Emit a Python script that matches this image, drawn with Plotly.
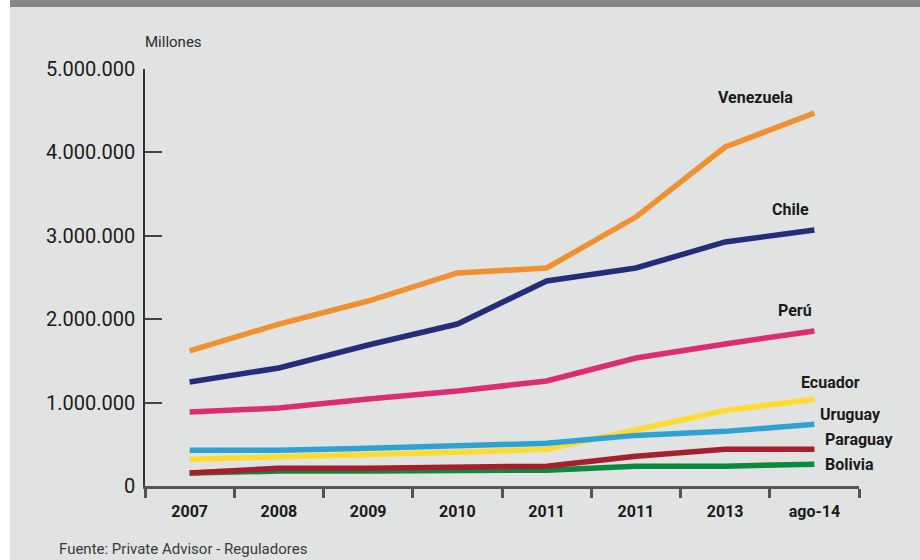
import plotly.graph_objects as go

categories = ["2007", "2008", "2009", "2010", "2011", "2011 ", "2013", "ago-14"]
tick_labels = ["2007", "2008", "2009", "2010", "2011", "2011", "2013", "ago-14"]

venezuela = [1619000, 1942000, 2218000, 2554000, 2614000, 3225000, 4065000, 4472000]
chile = [1247000, 1415000, 1691000, 1942000, 2458000, 2614000, 2926000, 3070000]
peru = [887000, 935000, 1043000, 1139000, 1259000, 1535000, 1703000, 1859000]
ecuador = [321000, 345000, 381000, 405000, 440000, 667000, 905000, 1040000]
uruguay = [429000, 429000, 452000, 488000, 512000, 607000, 655000, 740000]
paraguay = [155000, 214000, 214000, 226000, 238000, 357000, 440000, 440000]
bolivia = [155000, 179000, 179000, 179000, 190000, 238000, 238000, 262000]

y_ticks = [0, 1000000, 2000000, 3000000, 4000000, 5000000]
y_tick_text = ["0", "1.000.000", "2.000.000", "3.000.000", "4.000.000", "5.000.000"]

series = [
    ("Bolivia", bolivia, "#0b8a3e"),
    ("Paraguay", paraguay, "#a61f2e"),
    ("Ecuador", ecuador, "#fedc2f"),
    ("Uruguay", uruguay, "#2ea3d3"),
    ("Perú", peru, "#dc2d72"),
    ("Chile", chile, "#232d7a"),
    ("Venezuela", venezuela, "#f0902e"),
]

# label placement: (xanchor, xshift, yshift)
label_pos = {
    "Venezuela": ("right", -19, 16),
    "Chile": ("right", -3, 20),
    "Perú": ("right", 0, 20),
    "Ecuador": ("left", -15, 17),
    "Uruguay": ("left", 4, 10),
    "Paraguay": ("left", 9, 10),
    "Bolivia": ("left", 9, 0),
}

FONT = "Roboto, DejaVu Sans, sans-serif"

# plot area in pixels
L, R, T, B = 145, 859, 69, 486
W, H = R - L, B - T


def px(x):
    return (x - L) / W


def py(y):
    return (B - y) / H


fig = go.Figure()
for name, vals, color in series:
    fig.add_trace(go.Scatter(
        x=categories, y=vals, mode="lines", name=name,
        line=dict(color=color, width=5.5),
        hoverinfo="skip", showlegend=False, cliponaxis=False,
    ))

annotations = []
for name, vals, color in series:
    xa, xs, ys = label_pos[name]
    annotations.append(dict(
        x=categories[-1], y=vals[-1], xref="x", yref="y",
        text=name, showarrow=False,
        xanchor=xa, yanchor="middle", xshift=xs, yshift=ys,
        font=dict(family=FONT, size=16, color="#1a1a1a", weight="bold"),
    ))

annotations.append(dict(
    x=px(143), y=py(42), xref="paper", yref="paper", text="Millones",
    showarrow=False, xanchor="left", yanchor="middle",
    font=dict(family=FONT, size=15, color="#2a2a2a"),
))
annotations.append(dict(
    x=px(57), y=py(549), xref="paper", yref="paper",
    text="Fuente: Private Advisor - Reguladores", showarrow=False,
    xanchor="left", yanchor="middle",
    font=dict(family=FONT, size=15, color="#3a3a3a"),
))

fig.update_layout(
    width=920, height=560,
    margin=dict(l=L, r=920 - R, t=T, b=560 - B),
    paper_bgcolor="#e1e3e2", plot_bgcolor="#e1e3e2",
    annotations=annotations,
    shapes=[
        dict(type="rect", xref="paper", yref="paper",
             x0=px(0), x1=px(920), y0=py(7), y1=py(0),
             fillcolor="#878787", line=dict(width=0), layer="above"),
        dict(type="rect", xref="paper", yref="paper",
             x0=px(0), x1=px(10), y0=py(560), y1=py(0),
             fillcolor="#ffffff", line=dict(width=0), layer="above"),
    ],
    xaxis=dict(
        type="category", range=[-0.5, 7.5],
        tickvals=categories, ticktext=tick_labels,
        tickson="boundaries", ticks="outside", ticklen=9, tickwidth=3,
        tickcolor="#555555", showline=True, linecolor="#555555", linewidth=3,
        showgrid=False, zeroline=False,
        tickfont=dict(family=FONT, size=16, color="#1a1a1a", weight="bold"),
        ticklabelstandoff=9,
    ),
    yaxis=dict(
        range=[0, 5000000], tickvals=y_ticks, ticktext=y_tick_text,
        ticks="inside", ticklen=17, tickwidth=1.5, tickcolor="#444444",
        showline=True, linecolor="#333333", linewidth=1.5,
        showgrid=False, zeroline=False,
        tickfont=dict(family=FONT, size=20, color="#1a1a1a"),
        ticklabelstandoff=4,
    ),
)

fig.write_html("out.html")
